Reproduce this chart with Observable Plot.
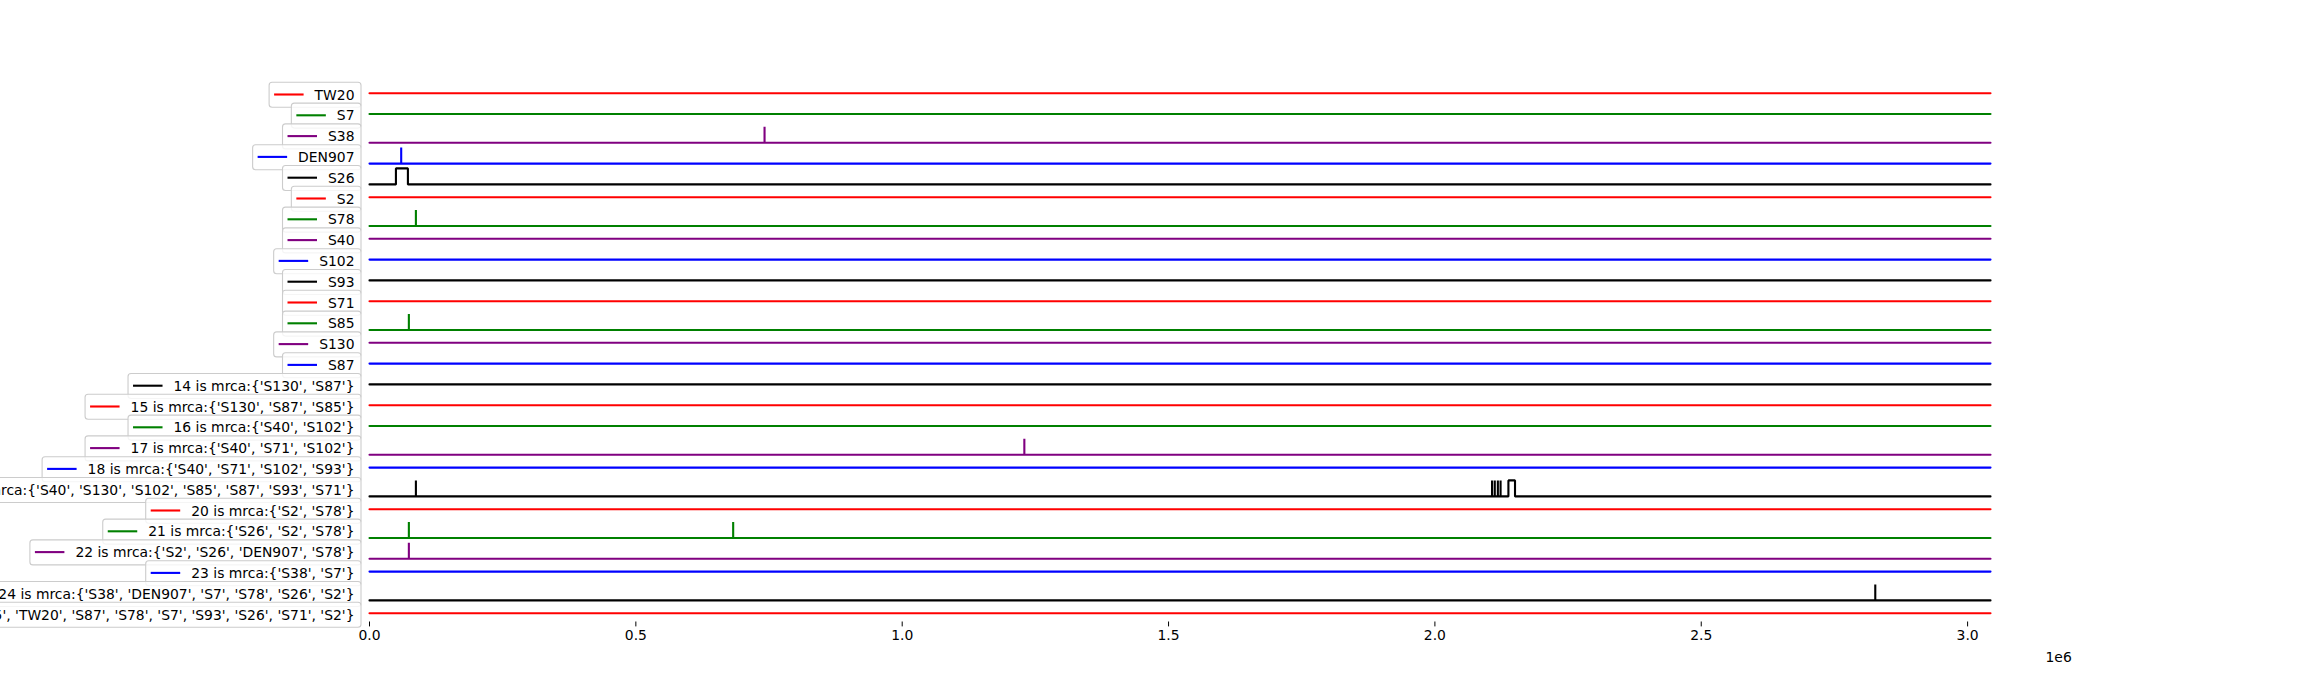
<!DOCTYPE html>
<html><head><meta charset="utf-8">
<script src="https://cdn.jsdelivr.net/npm/d3@7"></script>
<script src="https://cdn.jsdelivr.net/npm/@observablehq/plot@0.6"></script>
<style>
body{margin:0;background:#fff;}
#wrap{position:relative;width:2300px;height:700px;overflow:hidden;}
</style>
</head><body><div id="wrap"></div>
<script>
// ---- data ----
const rowNames = [
  "TW20","S7","S38","DEN907","S26","S2","S78","S40","S102","S93","S71","S85","S130","S87",
  "14 is mrca:{'S130', 'S87'}",
  "15 is mrca:{'S130', 'S87', 'S85'}",
  "16 is mrca:{'S40', 'S102'}",
  "17 is mrca:{'S40', 'S71', 'S102'}",
  "18 is mrca:{'S40', 'S71', 'S102', 'S93'}",
  "19 is mrca:{'S40', 'S130', 'S102', 'S85', 'S87', 'S93', 'S71'}",
  "20 is mrca:{'S2', 'S78'}",
  "21 is mrca:{'S26', 'S2', 'S78'}",
  "22 is mrca:{'S2', 'S26', 'DEN907', 'S78'}",
  "23 is mrca:{'S38', 'S7'}",
  "24 is mrca:{'S38', 'DEN907', 'S7', 'S78', 'S26', 'S2'}",
  "25 is mrca:{'S38', 'DEN907', 'S40', 'S130', 'S102', 'S85', 'TW20', 'S87', 'S78', 'S7', 'S93', 'S26', 'S71', 'S2'}"
];
const colorCycle = ["red","green","purple","blue","black"];
// spikes: row index, start, end (genome position)
const spikeRow   = [2, 3, 4, 6, 11, 17, 19, 19, 19, 19, 19, 19, 21, 21, 22, 24];
const spikeStart = [741600, 59500, 49600, 87100, 73900, 1229300, 87100, 2107300, 2112400, 2118200, 2123300, 2138000, 73900, 682700, 73900, 2826700];
const spikeEnd   = [741600, 59500, 72100, 87100, 73900, 1229300, 87100, 2107300, 2112400, 2118200, 2123300, 2150400, 73900, 682700, 73900, 2826700];
const genomeLength = 3043000;
const xTicks = [0, 500000, 1000000, 1500000, 2000000, 2500000, 3000000];
const offsetLabel = "1e6";

// ---- layout ----
const W = 2300, H = 700, mL = 369, mR = 310, mT = 83.9, mB = 78.5;
const FONT = 13.9;
const xs = Plot.scale({x: {domain: [0, genomeLength], range: [mL, W - mR]}});
const ctx = document.createElement("canvas").getContext("2d");
ctx.font = `${FONT}px "DejaVu Sans"`;

const table = [];
rowNames.forEach((name, i) => {
  const color = colorCycle[i % colorCycle.length];
  const idx = spikeRow.map((r, k) => r === i ? k : -1).filter(k => k >= 0)
    .sort((a, b) => spikeStart[a] - spikeStart[b]);
  const has = idx.length > 0;
  const lo = has ? -0.05 : -0.055, hi = has ? 1.05 : 0.055; // per-row autoscale
  const norm = v => (v - lo) / (hi - lo);
  const pts = [[0, 0]];
  for (const k of idx) pts.push([spikeStart[k], 0], [spikeStart[k], 1], [spikeEnd[k], 1], [spikeEnd[k], 0]);
  pts.push([genomeLength, 0]);
  for (const [x, v] of pts) table.push({kind: "line", row: name, color, x, y: norm(v)});
  const textRight = mL - 15;
  const w = ctx.measureText(name).width;
  const textLeft = textRight - w;
  table.push({kind: "legend", row: name, color, label: name,
    bx1: xs.invert(textLeft - 45), bx2: xs.invert(mL - 8),
    sx1: xs.invert(textLeft - 40), sx2: xs.invert(textLeft - 10.5)});
});
table.push({kind: "offset", row: rowNames[rowNames.length - 1], label: offsetLabel, x: genomeLength});

const isLine = d => d.kind === "line", isLeg = d => d.kind === "legend", isOff = d => d.kind === "offset";

const chart = Plot.plot({
  width: W, height: H,
  marginLeft: mL, marginRight: mR, marginTop: mT, marginBottom: mB,
  style: {fontFamily: "'DejaVu Sans'", fontSize: FONT + "px", background: "white", color: "black", overflow: "visible"},
  facet: {data: table, y: "row"},
  fy: {domain: rowNames, paddingInner: 0.1538, paddingOuter: 0, round: false, axis: null, label: null},
  x: {domain: [0, genomeLength], ticks: xTicks, tickFormat: d => (d / 1e6).toFixed(1), tickSize: 4.9, tickPadding: 3.5, label: null},
  y: {domain: [0, 1], axis: null},
  color: {type: "identity"},
  marks: [
    Plot.rect(table, {filter: isLeg, x1: "bx1", x2: "bx2", fill: "white", fillOpacity: 0.8, stroke: "#cccccc", strokeWidth: 1.1, rx: 3, insetTop: -1.6, insetBottom: -5.8}),
    Plot.ruleY(table, {filter: isLeg, y: () => 0.5, x1: "sx1", x2: "sx2", stroke: "color", strokeWidth: 2.1, dy: 1.3}),
    Plot.text(table, {filter: isLeg, text: "label", frameAnchor: "left", textAnchor: "end", dx: -15, dy: 2, fontSize: FONT, fill: "black"}),
    Plot.line(table, {filter: isLine, x: "x", y: "y", stroke: "color", strokeWidth: 2.1, strokeLinejoin: "miter"}),
    Plot.text(table, {filter: isOff, x: "x", text: "label", frameAnchor: "middle", textAnchor: "start", dx: 55, dy: 44.5, fontSize: FONT, fill: "black"})
  ]
});
document.getElementById("wrap").appendChild(chart);
</script>
</body></html>
